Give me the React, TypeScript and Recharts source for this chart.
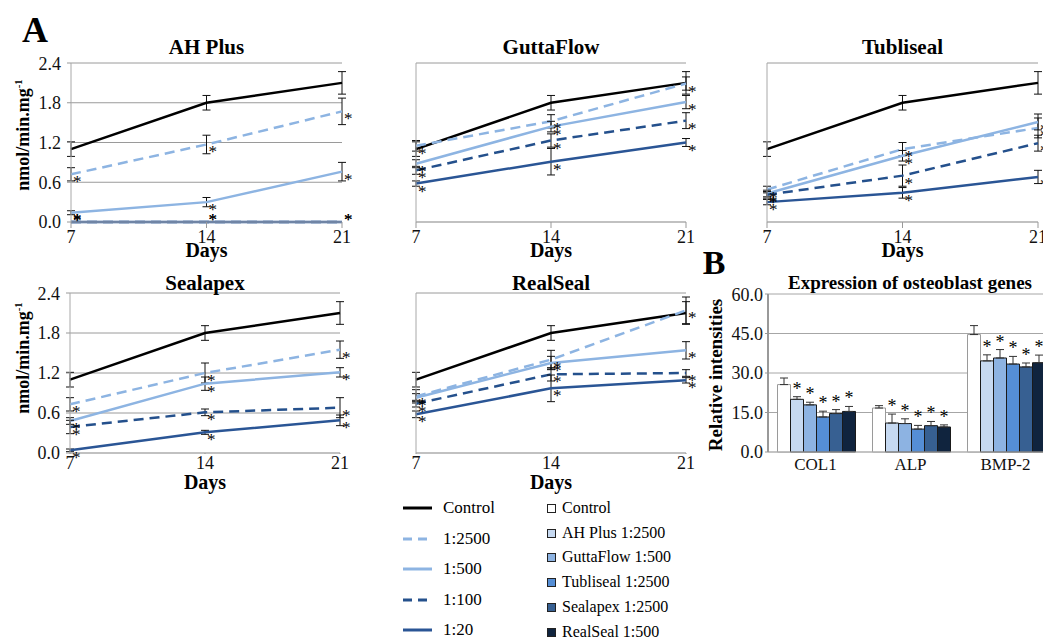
import React from 'react';
import { LineChart, Line, XAxis, YAxis, CartesianGrid, ErrorBar, BarChart, Bar, LabelList } from 'recharts';

const FONT = '"Liberation Serif", "Times New Roman", serif';

// ---- panel A: ALP activity (nmol/min.mg-1) ----
const days = [7, 14, 21];
const yTicks = [0, 0.6, 1.2, 1.8, 2.4];
const lineSeries = ['Control', '1:2500', '1:500', '1:100', '1:20'];
const lineKeys = ['c', 'd2500', 'd500', 'd100', 'd20'];
const lineColors = ['#000000', '#8db4e2', '#8db4e2', '#24508c', '#2a5595'];
const lineDash = [undefined, '10 6', undefined, '10 6', undefined];

const controlMean = [1.1, 1.8, 2.1];
const controlErr = [0.11, 0.11, 0.17];

// rows: 1:2500, 1:500, 1:100, 1:20
const ahPlusMean = [[0.72, 1.17, 1.67], [0.14, 0.3, 0.76], [0, 0, 0], [0, 0, 0]];
const ahPlusErr = [[0.1, 0.14, 0.2], [0.03, 0.07, 0.14], [0, 0, 0], [0, 0, 0]];
const guttaMean = [[1.15, 1.52, 2.09], [0.88, 1.44, 1.81], [0.78, 1.23, 1.53], [0.58, 0.91, 1.2]];
const guttaErr = [[0.08, 0.1, 0.1], [0.06, 0.08, 0.1], [0.06, 0.1, 0.12], [0.04, 0.2, 0.06]];
const tubliMean = [[0.49, 1.1, 1.42], [0.43, 1.0, 1.51], [0.41, 0.7, 1.19], [0.3, 0.44, 0.68]];
const tubliErr = [[0.05, 0.1, 0.15], [0.05, 0.08, 0.12], [0.05, 0.16, 0.12], [0.04, 0.08, 0.1]];
const sealMean = [[0.73, 1.2, 1.55], [0.48, 1.04, 1.21], [0.39, 0.61, 0.68], [0.04, 0.31, 0.49]];
const sealErr = [[0.1, 0.15, 0.13], [0.05, 0.1, 0.07], [0.1, 0.05, 0.15], [0.02, 0.03, 0.08]];
const realMean = [[0.85, 1.4, 2.14], [0.83, 1.35, 1.54], [0.74, 1.18, 1.2], [0.58, 0.97, 1.09]];
const realErr = [[0.1, 0.14, 0.2], [0.06, 0.1, 0.13], [0.05, 0.1, 0.05], [0.05, 0.2, 0.04]];

// ---- panel B: osteoblast genes ----
const genes = ['COL1', 'ALP', 'BMP-2'];
const barGroups = ['Control', 'AH Plus 1:2500', 'GuttaFlow 1:500', 'Tubliseal 1:2500', 'Sealapex 1:2500', 'RealSeal 1:500'];
const barColors = ['#ffffff', '#c6d9f1', '#8db3e2', '#558ed5', '#376092', '#10243e'];
const barStrokes = ['#9a9a9a', '#1a1a1a', '#1a1a1a', '#1a1a1a', '#1a1a1a', '#1a1a1a'];
const barTicks = [0, 15, 30, 45, 60];
const col1Mean = [25.6, 20.0, 17.9, 13.3, 14.6, 15.4];
const col1Err = [2.5, 1.0, 1.0, 2.2, 1.5, 1.9];
const alpMean = [16.7, 11.0, 10.8, 8.7, 10.0, 9.5];
const alpErr = [0.9, 3.4, 1.8, 1.4, 1.6, 0.8];
const bmp2Mean = [44.6, 34.6, 35.7, 33.4, 32.3, 33.9];
const bmp2Err = [3.4, 2.3, 3.2, 2.9, 1.5, 2.9];

function buildRows(means: number[][], errs: number[][]) {
  return days.map((d, i) => {
    const row: any = { day: d, c: controlMean[i], cE: controlErr[i] };
    means.forEach((m, s) => {
      row[lineKeys[s + 1]] = m[i];
      row[lineKeys[s + 1] + 'E'] = errs[s][i];
    });
    return row;
  });
}

const barRows = genes.map((g, gi) => {
  const means = [col1Mean, alpMean, bmp2Mean][gi];
  const errs = [col1Err, alpErr, bmp2Err][gi];
  const row: any = { gene: g };
  barGroups.forEach((_, s) => {
    row['b' + s] = means[s];
    row['b' + s + 'E'] = [0, errs[s]];
    row['b' + s + 'T'] = errs[s];
  });
  return row;
});

function Txt({ x, y, size, bold, rotate, children }: any) {
  return (
    <div
      style={{
        position: 'absolute',
        left: x,
        top: y,
        transform: 'translate(-50%, -50%)' + (rotate ? ' rotate(-90deg)' : ''),
        fontSize: size,
        fontFamily: FONT,
        fontWeight: bold ? 'bold' : 'normal',
        lineHeight: 1,
        whiteSpace: 'nowrap',
        color: '#000',
      }}
    >
      {children}
    </div>
  );
}

const lineStar = (props: any) => {
  const vb = props.viewBox || {};
  const x = props.x ?? vb.x;
  const y = props.y ?? vb.y;
  if (x == null || y == null) return null;
  // zero-valued points get their star just above the axis
  const dy = Number(props.value) === 0 ? 3 : 13;
  return (
    <text x={x + 2} y={y + dy} fontSize={17} fontFamily={FONT} fill="#000">*</text>
  );
};

const BAR_PH = 158;

const barStar = (props: any) => {
  const vb = props.viewBox && props.viewBox.width != null ? props.viewBox : props;
  const x = Number(vb.x);
  const y = Number(vb.y);
  const w = Number(vb.width);
  const err = Number(props.value) * (BAR_PH / 60);
  return (
    <text x={x + w / 2} y={y - err - 2} textAnchor="middle" fontSize={18} fontFamily={FONT} fill="#000">*</text>
  );
};

function LinePanel({ px, py, pw, ph, title, rows, showY, tickGap, titleY, daysY }: any) {
  return (
    <>
      <div style={{ position: 'absolute', left: px - 60, top: py - 10 }}>
        <LineChart width={pw + 80} height={ph + 45} data={rows} margin={{ top: 10, right: 20, bottom: 5, left: 0 }}>
          <CartesianGrid vertical={false} stroke="#9a9a9a" />
          <XAxis
            dataKey="day"
            type="number"
            domain={[7, 21]}
            ticks={days}
            height={30}
            axisLine={{ stroke: '#b5b5b5' }}
            tickLine={{ stroke: '#999' }}
            tickSize={tickGap}
            tick={{ fill: '#111', fontSize: 18, fontFamily: FONT }}
          />
          <YAxis
            type="number"
            domain={[0, 2.4]}
            ticks={yTicks}
            width={60}
            tickFormatter={(v: number) => v.toFixed(1)}
            axisLine={{ stroke: '#a8a8a8' }}
            tickLine={{ stroke: '#999' }}
            tickSize={4}
            tickMargin={6}
            tick={showY ? { fill: '#111', fontSize: 18, fontFamily: FONT } : false}
          />
          {lineKeys.map((k, s) => (
            <Line
              key={k}
              dataKey={k}
              name={lineSeries[s]}
              stroke={lineColors[s]}
              strokeWidth={2.5}
              strokeDasharray={lineDash[s]}
              dot={false}
              isAnimationActive={false}
              label={s > 0 ? lineStar : false}
            >
              <ErrorBar dataKey={k + 'E'} width={4} stroke="#111" strokeWidth={1} direction="y" isAnimationActive={false} />
            </Line>
          ))}
        </LineChart>
      </div>
      <Txt x={px + pw / 2} y={titleY} size={21} bold>{title}</Txt>
      <Txt x={px + pw / 2} y={daysY} size={20} bold>Days</Txt>
    </>
  );
}

export default function App() {
  return (
    <div
      style={{
        position: 'absolute',
        left: 0,
        top: 0,
        width: 1043,
        height: 640,
        overflow: 'hidden',
        background: '#fff',
        fontFamily: FONT,
      }}
    >
      <Txt x={35} y={30} size={36} bold>A</Txt>
      <Txt x={714} y={263} size={34} bold>B</Txt>

      <LinePanel px={71} py={63} pw={271} ph={159} title="AH Plus" rows={buildRows(ahPlusMean, ahPlusErr)} showY tickGap={6} titleY={47} daysY={250} />
      <LinePanel px={416} py={63} pw={270} ph={159} title="GuttaFlow" rows={buildRows(guttaMean, guttaErr)} showY={false} tickGap={6} titleY={47} daysY={250} />
      <LinePanel px={767} py={63} pw={271} ph={159} title="Tubliseal" rows={buildRows(tubliMean, tubliErr)} showY={false} tickGap={6} titleY={47} daysY={250} />
      <LinePanel px={70} py={293} pw={270} ph={160} title="Sealapex" rows={buildRows(sealMean, sealErr)} showY tickGap={1} titleY={283} daysY={482} />
      <LinePanel px={416} py={293} pw={270} ph={160} title="RealSeal" rows={buildRows(realMean, realErr)} showY={false} tickGap={1} titleY={283} daysY={482} />

      <Txt x={22} y={135} size={18} bold rotate>nmol/min.mg<sup style={{ fontSize: '0.6em' }}>-1</sup></Txt>
      <Txt x={22} y={358} size={18} bold rotate>nmol/min.mg<sup style={{ fontSize: '0.6em' }}>-1</sup></Txt>

      {/* panel B */}
      <div style={{ position: 'absolute', left: 698, top: 284 }}>
        <BarChart
          width={365}
          height={BAR_PH + 45}
          data={barRows}
          margin={{ top: 10, right: 10, bottom: 5, left: 0 }}
          barCategoryGap="10%"
          barGap={0}
        >
          <CartesianGrid vertical={false} stroke="#a6a6a6" />
          <XAxis
            dataKey="gene"
            height={30}
            axisLine={{ stroke: '#b5b5b5' }}
            tickLine={false}
            tickSize={0}
            tickMargin={6}
            tick={{ fill: '#111', fontSize: 17, fontFamily: FONT }}
          />
          <YAxis
            domain={[0, 60]}
            ticks={barTicks}
            width={70}
            tickFormatter={(v: number) => v.toFixed(1)}
            axisLine={{ stroke: '#999', strokeWidth: 2 }}
            tickLine={{ stroke: '#999' }}
            tickSize={3}
            tickMargin={2}
            tick={{ fill: '#111', fontSize: 18, fontFamily: FONT }}
          />
          {barGroups.map((g, s) => (
            <Bar key={g} dataKey={'b' + s} name={g} fill={barColors[s]} stroke={barStrokes[s]} strokeWidth={1} isAnimationActive={false}>
              <ErrorBar dataKey={'b' + s + 'E'} width={4} stroke="#333" strokeWidth={1} direction="y" isAnimationActive={false} />
              {s > 0 && <LabelList dataKey={'b' + s + 'T'} content={barStar} />}
            </Bar>
          ))}
        </BarChart>
      </div>
      <Txt x={910} y={282} size={19} bold>Expression of osteoblast genes</Txt>
      <Txt x={715} y={375} size={19} bold rotate>Relative intensities</Txt>

      {/* line legend */}
      {lineSeries.map((name, i) => {
        const y = 508 + i * 30.5;
        return (
          <React.Fragment key={name}>
            <svg style={{ position: 'absolute', left: 400, top: y - 4 }} width={36} height={8}>
              <line x1={3} y1={4} x2={32} y2={4} stroke={lineColors[i]} strokeWidth={3} strokeDasharray={lineDash[i] ? '9 6' : undefined} />
            </svg>
            <div style={{ position: 'absolute', left: 443, top: y - 9, fontSize: 17, fontFamily: FONT, lineHeight: '18px', whiteSpace: 'nowrap' }}>{name}</div>
          </React.Fragment>
        );
      })}

      {/* bar legend */}
      {barGroups.map((name, i) => {
        const y = 508 + i * 24.7;
        return (
          <React.Fragment key={name}>
            <div
              style={{
                position: 'absolute',
                left: 547,
                top: y - 4,
                width: 7,
                height: 7,
                background: barColors[i],
                border: '1px solid #222',
              }}
            />
            <div style={{ position: 'absolute', left: 562, top: y - 9, fontSize: 16, fontFamily: FONT, lineHeight: '18px', whiteSpace: 'nowrap' }}>{name}</div>
          </React.Fragment>
        );
      })}
    </div>
  );
}
